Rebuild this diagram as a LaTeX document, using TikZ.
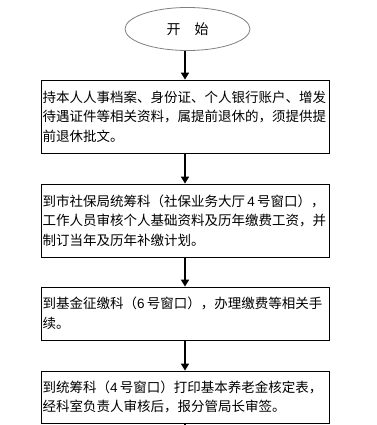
\documentclass[tikz,border=0pt]{standalone}
\usepackage{fontspec}
\setmainfont{Liberation Sans}
\newfontfamily\cjk{Noto Sans CJK SC}
\usetikzlibrary{shapes.geometric,arrows.meta}
\tikzset{
  box/.style={draw=black, line width=0.8pt, rectangle, text width=285pt, inner xsep=1.5pt, inner ysep=0pt, align=left,
    font=\cjk\fontsize{13.5pt}{19.6pt}\selectfont},
  startnode/.style={draw=gray, line width=0.8pt, ellipse, minimum width=125pt, minimum height=43pt, inner sep=0pt,
    font=\cjk\fontsize{14pt}{16pt}\selectfont},
  flow/.style={line width=1.6pt, -{Triangle[length=7pt,width=8pt]}},
  num/.style={font=\fontsize{13pt}{15pt}\selectfont}
}
\begin{document}
\begin{tikzpicture}[x=1pt,y=-1pt]
\fill[white] (0,0) rectangle (376,425);
\useasboundingbox (0,0) rectangle (376,425);
\node[startnode] (start) at (187.5,29) {开\hspace{1em}始};
\node[box, minimum height=73pt] (b1) at (185,116.5) {持本人人事档案、身份证、个人银行账户、增发\\待遇证件等相关资料，属提前退休的，须提供提\\前退休批文。};
\node[box, minimum height=73pt] (b2) at (185,220.5) {到市社保局统筹科（社保业务大厅\,{\fontspec{Liberation Sans}4}\,号窗口），\\工作人员审核个人基础资料及历年缴费工资，并\\制订当年及历年补缴计划。};
\node[box, minimum height=53pt] (b3) at (185,313.5) {到基金征缴科（{\fontspec{Liberation Sans}6}\,号窗口），办理缴费等相关手\\续。};
\node[box, minimum height=52pt] (b4) at (185,397) {到统筹科（{\fontspec{Liberation Sans}4}\,号窗口）打印基本养老金核定表，\\经科室负责人审核后，报分管局长审签。};
\coordinate (end) at (185,425);
\draw[flow] (b1.north |- start.south) -- (b1.north);
\draw[flow] (b1.south) -- (b2.north);
\draw[flow] (b2.south) -- (b3.north);
\draw[flow] (b3.south) -- (b4.north);
\draw[line width=1.6pt] (b4.south) -- (end);
\end{tikzpicture}
\end{document}
